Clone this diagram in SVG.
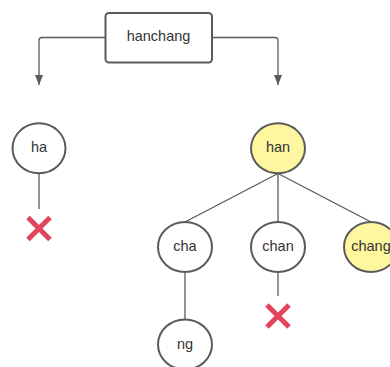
<svg xmlns="http://www.w3.org/2000/svg" width="390" height="367" viewBox="0 0 390 367">
  <defs>
    <marker id="arrow" markerWidth="10" markerHeight="8" refX="10" refY="4" orient="auto" markerUnits="userSpaceOnUse" viewBox="0 0 10 8">
      <path d="M0,0 L10,4 L0,8 Z" fill="#5a5a5a"/>
    </marker>
    <style>
      .node { fill: #ffffff; stroke: #5a5a5a; stroke-width: 2; }
      .hit { fill: #fff6a0; }
      .edge { fill: none; stroke: #5a5a5a; stroke-width: 1.3; }
      .cross { stroke: #e2445c; stroke-width: 5; stroke-linecap: butt; }
      text { font-family: "Liberation Sans", Arial, sans-serif; font-size: 14.5px; fill: #333333; text-anchor: middle; dominant-baseline: central; }
    </style>
  </defs>
  <rect width="390" height="367" fill="#ffffff"/>

  <g id="connectors">
    <path class="edge" d="M105.5,37.5 H42 Q39,37.5 39,40.5 V85" marker-end="url(#arrow)"/>
    <path class="edge" d="M212,37.5 H275 Q278,37.5 278,40.5 V85" marker-end="url(#arrow)"/>
    <line class="edge" x1="39" y1="173.5" x2="39" y2="209"/>
    <line class="edge" x1="278" y1="173.5" x2="185" y2="222"/>
    <line class="edge" x1="278" y1="173.5" x2="278" y2="222"/>
    <line class="edge" x1="278" y1="173.5" x2="371" y2="222"/>
    <line class="edge" x1="185" y1="272" x2="185" y2="319.5"/>
    <line class="edge" x1="278" y1="272" x2="278" y2="296"/>
  </g>

  <g id="node-hanchang">
    <rect class="node" x="105.5" y="13" width="106.5" height="49.5" rx="3.5"/>
    <text x="158.5" y="36">hanchang</text>
  </g>
  <g id="node-ha">
    <ellipse class="node" cx="39" cy="148.3" rx="26.5" ry="25"/>
    <text x="39" y="147">ha</text>
  </g>
  <g id="node-han">
    <ellipse class="node hit" cx="278" cy="148.3" rx="27" ry="25"/>
    <text x="278" y="147">han</text>
  </g>
  <g id="node-cha">
    <ellipse class="node" cx="185" cy="247" rx="27" ry="25"/>
    <text x="185" y="245.5">cha</text>
  </g>
  <g id="node-chan">
    <ellipse class="node" cx="278" cy="247" rx="27" ry="25"/>
    <text x="278" y="245.5">chan</text>
  </g>
  <g id="node-chang">
    <ellipse class="node hit" cx="371" cy="247" rx="27" ry="25"/>
    <text x="371" y="245.5">chang</text>
  </g>
  <g id="node-ng">
    <ellipse class="node" cx="185" cy="344.5" rx="27" ry="25"/>
    <text x="185" y="344">ng</text>
  </g>

  <g id="mark-ha">
    <path class="cross" d="M28,217.5 L50,239.5 M50,217.5 L28,239.5"/>
  </g>
  <g id="mark-chan">
    <path class="cross" d="M267,305 L289,327 M289,305 L267,327"/>
  </g>
</svg>
